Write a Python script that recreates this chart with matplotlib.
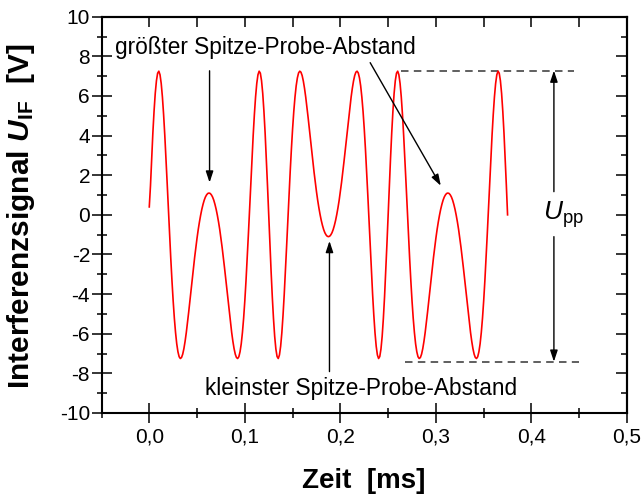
import numpy as np
import matplotlib
matplotlib.use("Agg")
import matplotlib.pyplot as plt
from matplotlib.ticker import MultipleLocator

plt.rcParams['font.family'] = ['Liberation Sans', 'DejaVu Sans']
plt.rcParams['mathtext.fontset'] = 'custom'
plt.rcParams['mathtext.rm'] = 'Liberation Sans'
plt.rcParams['mathtext.it'] = 'Liberation Sans:italic'
plt.rcParams['mathtext.bf'] = 'Liberation Sans:bold'
plt.rcParams['mathtext.bfit'] = 'Liberation Sans:italic:bold'

# Interference signal U_IF [V], sampled every 1.25 µs from 0 to 0.375 ms
t_start = 0.0
t_step = 0.00125
u_if = [
    0.40, 1.46, 2.85, 4.13, 5.23, 6.13, 6.77, 7.15, 7.25, 7.07, 6.63, 5.95, 5.06,
    4.01, 2.83, 1.58, 0.30, -0.97, -2.19, -3.32, -4.34, -5.22, -5.94, -6.51, -6.91,
    -7.16, -7.25, -7.20, -7.03, -6.75, -6.38, -5.94, -5.44, -4.91, -4.35, -3.78,
    -3.22, -2.67, -2.14, -1.64, -1.17, -0.74, -0.36, -0.02, 0.28, 0.53, 0.74, 0.90,
    1.01, 1.08, 1.10,
    1.08, 1.01, 0.90, 0.74, 0.53, 0.28, -0.02, -0.36, -0.74, -1.17, -1.64, -2.14,
    -2.67, -3.22, -3.78, -4.35, -4.91, -5.44, -5.94, -6.38, -6.75, -7.03, -7.20,
    -7.25, -7.16, -6.91, -6.51, -5.94, -5.22, -4.34, -3.32, -2.19, -0.97, 0.30,
    1.58, 2.83, 4.01, 5.06, 5.95, 6.63, 7.07, 7.25, 7.15, 6.77, 6.13, 5.23, 4.13,
    2.85, 1.46, 0.00,
    -1.46, -2.85, -4.13, -5.23, -6.13, -6.77, -7.15, -7.25, -7.07, -6.63, -5.95,
    -5.06, -4.01, -2.83, -1.58, -0.30, 0.97, 2.19, 3.32, 4.34, 5.22, 5.94, 6.51,
    6.91, 7.16, 7.25, 7.20, 7.03, 6.75, 6.38, 5.94, 5.44, 4.91, 4.35, 3.78, 3.22,
    2.67, 2.14, 1.64, 1.17, 0.74, 0.36, 0.02, -0.28, -0.53, -0.74, -0.90, -1.01,
    -1.08, -1.10,
    -1.08, -1.01, -0.90, -0.74, -0.53, -0.28, 0.02, 0.36, 0.74, 1.17, 1.64, 2.14,
    2.67, 3.22, 3.78, 4.35, 4.91, 5.44, 5.94, 6.38, 6.75, 7.03, 7.20, 7.25, 7.16,
    6.91, 6.51, 5.94, 5.22, 4.34, 3.32, 2.19, 0.97, -0.30, -1.58, -2.83, -4.01,
    -5.06, -5.95, -6.63, -7.07, -7.25, -7.15, -6.77, -6.13, -5.23, -4.13, -2.85,
    -1.46, 0.00,
    1.46, 2.85, 4.13, 5.23, 6.13, 6.77, 7.15, 7.25, 7.07, 6.63, 5.95, 5.06, 4.01,
    2.83, 1.58, 0.30, -0.97, -2.19, -3.32, -4.34, -5.22, -5.94, -6.51, -6.91, -7.16,
    -7.25, -7.20, -7.03, -6.75, -6.38, -5.94, -5.44, -4.91, -4.35, -3.78, -3.22,
    -2.67, -2.14, -1.64, -1.17, -0.74, -0.36, -0.02, 0.28, 0.53, 0.74, 0.90, 1.01,
    1.08, 1.10,
    1.08, 1.01, 0.90, 0.74, 0.53, 0.28, -0.02, -0.36, -0.74, -1.17, -1.64, -2.14,
    -2.67, -3.22, -3.78, -4.35, -4.91, -5.44, -5.94, -6.38, -6.75, -7.03, -7.20,
    -7.25, -7.16, -6.91, -6.51, -5.94, -5.22, -4.34, -3.32, -2.19, -0.97, 0.30,
    1.58, 2.83, 4.01, 5.06, 5.95, 6.63, 7.07, 7.25, 7.15, 6.77, 6.13, 5.23, 4.13,
    2.85, 1.46, 0.00,
]
t_ms = t_start + t_step * np.arange(len(u_if))

x_ticks = [0.0, 0.1, 0.2, 0.3, 0.4, 0.5]
x_tick_labels = ['0,0', '0,1', '0,2', '0,3', '0,4', '0,5']
y_ticks = [-10, -8, -6, -4, -2, 0, 2, 4, 6, 8, 10]
y_tick_labels = ['-10', '-8', '-6', '-4', '-2', '0', '2', '4', '6', '8', '10']

# peak-to-peak levels and the annotated turning points
upp_top = 7.28
upp_bottom = -7.41
upp_x = 0.4235

fig = plt.figure(figsize=(6.43, 5.01), dpi=100)
ax = fig.add_axes([101.5 / 643, 1 - 413 / 501, 525.5 / 643, 396.3 / 501])

ax.plot(t_ms, u_if, color='#ff0000', lw=1.2, zorder=3)

ax.set_xlim(-0.05, 0.5)
ax.set_ylim(-10, 10)
ax.set_xticks(x_ticks)
ax.set_xticklabels(x_tick_labels)
ax.set_yticks(y_ticks)
ax.set_yticklabels(y_tick_labels)
ax.xaxis.set_minor_locator(MultipleLocator(0.05))
ax.yaxis.set_minor_locator(MultipleLocator(1))

for s in ax.spines.values():
    s.set_linewidth(1.5)

ax.tick_params(which='major', direction='inout', length=14.4, width=1.1,
               labelsize=15, top=False, right=False)
ax.tick_params(which='minor', direction='inout', length=7.2, width=1.1,
               top=False, right=False)
ax.tick_params(axis='x', which='major', pad=3.5)
ax.tick_params(axis='y', which='major', pad=1)

# inward ticks on top and right edges
top = ax.secondary_xaxis('top')
top.set_xticks(x_ticks)
top.xaxis.set_minor_locator(MultipleLocator(0.05))
top.tick_params(which='both', direction='in', length=7.2, width=1.1, labeltop=False)
top.spines['top'].set_linewidth(1.5)
right = ax.secondary_yaxis('right')
right.set_yticks(y_ticks)
right.yaxis.set_minor_locator(MultipleLocator(1))
right.tick_params(which='major', direction='in', length=7.9, width=1.1, labelright=False)
right.tick_params(which='minor', direction='in', length=4.3, width=1.1)
right.spines['right'].set_linewidth(1.5)

# axis titles
fig.text(364 / 643, 1 - 481 / 501, 'Zeit  [ms]', fontsize=20, fontweight='bold',
         ha='center', va='center')
fig.text(21 / 643, 1 - 216 / 501,
         r'Interferenzsignal $\mathbfit{U}_{\mathbf{IF}}$  [V]',
         fontsize=21.5, fontweight='bold', rotation=90, ha='center', va='center')

arrow = dict(arrowstyle='-|>,head_length=0.45,head_width=0.15', color='black',
             lw=1.0, shrinkA=0, shrinkB=0, mutation_scale=15)

# annotations: largest and smallest tip-sample distance
ax.text(-0.0356, 8.12, 'größter Spitze-Probe-Abstand', fontsize=16.3,
        ha='left', va='baseline')
ax.annotate('', xy=(0.0631, 1.63), xytext=(0.0631, 7.27), arrowprops=arrow)
ax.annotate('', xy=(0.3051, 1.47), xytext=(0.2312, 7.68), arrowprops=arrow)

ax.text(0.0586, -9.09, 'kleinster Spitze-Probe-Abstand', fontsize=16.3,
        ha='left', va='baseline')
ax.annotate('', xy=(0.1886, -1.32), xytext=(0.1886, -7.91), arrowprops=arrow)

# peak-to-peak amplitude marker
ax.plot([0.2636, 0.4446], [upp_top, upp_top], color='#444444', lw=1.2,
        ls=(0, (4.5, 3.2)))
ax.plot([0.268, 0.450], [upp_bottom, upp_bottom], color='#444444', lw=1.2,
        ls=(0, (4.5, 3.2)))
ax.annotate('', xy=(upp_x, upp_top), xytext=(upp_x, 1.17), arrowprops=arrow)
ax.annotate('', xy=(upp_x, upp_bottom), xytext=(upp_x, -1.1), arrowprops=arrow)
ax.text(0.4121, 0.0, r'$U_{\mathrm{pp}}$', fontsize=19, ha='left', va='center')

fig.savefig('out.png', dpi=100)
